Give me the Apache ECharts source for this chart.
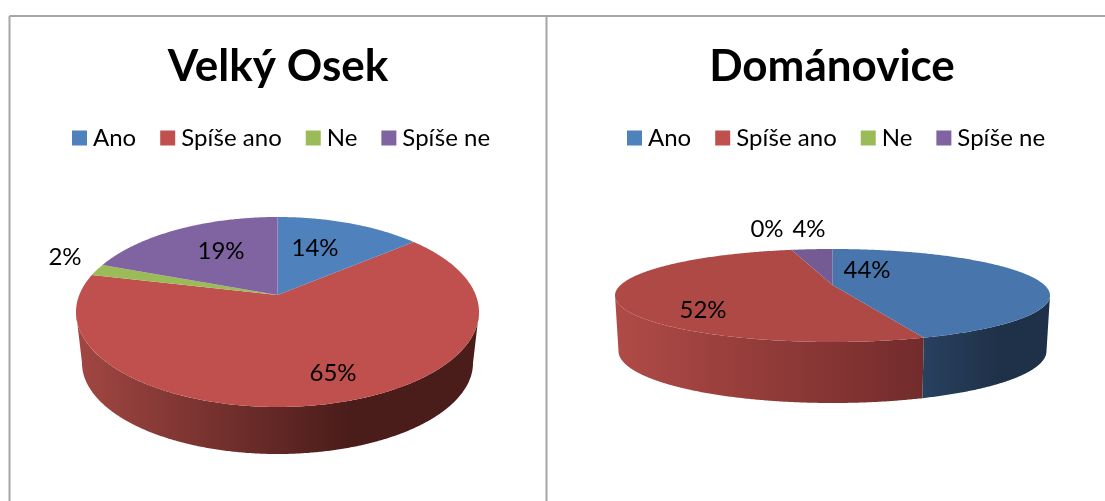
<!DOCTYPE html>
<html><head><meta charset="utf-8">
<style>html,body{margin:0;padding:0;background:#fff}#c{width:1105px;height:501px}</style>
<script src="https://cdn.jsdelivr.net/npm/echarts@6/dist/echarts.min.js"></script>
</head><body><div id="c"></div>
<script>
// Data
const categories = ['Ano', 'Spíše ano', 'Ne', 'Spíše ne'];
const titles = ['Velký Osek', 'Dománovice'];
const velkyOsekValues = [13.9, 64.7, 2, 19.4];
const domanoviceValues = [44.49, 51.7, 0, 3.81];

// Styling and layout
const FONT = 'Lato';
const legendColors = ['#4F81BD', '#C0504D', '#9BBB59', '#8064A2'];
const layouts = [
  { values: velkyOsekValues, cx: 277.5, cy: 312, rx: 201.5, ry: 95, k: 0.834,
    bcy: 363, brx: 195.5, bry: 91, titleX: 273, legendX: 72,
    top: ['#4F81BD', '#C0504D', '#9BBB59', '#8064A2'],
    side: [null, [['#A24743', 0], ['#4A1C1A', 0.68], ['#4A1C1A', 1]], null, null],
    labels: [[315, 248], [333, 373], [65, 257], [221, 251]] },
  { values: domanoviceValues, cx: 832.5, cy: 295.5, rx: 217.5, ry: 46.5, k: 0.794,
    bcy: 351, brx: 214, bry: 52, titleX: 827, legendX: 627,
    top: ['#4876AC', '#AE4946', '#8EAB51', '#755B94'],
    side: [[['#28415F', 0], ['#1F3148', 0.6], ['#1F3148', 1]], [['#B04B47', 0], ['#722B2B', 1]], null, null],
    labels: [[867, 270], [703, 310], [767, 229], [809, 229]] }
];

const toRim = (L, thetaDeg) => {
  // circle angle (clockwise from the top) -> angle on the foreshortened ellipse
  const t = thetaDeg * Math.PI / 360;
  if (Math.abs(Math.cos(t)) < 1e-9) return thetaDeg;
  let phi = 2 * Math.atan(L.k * Math.tan(t));
  if (phi < 0) phi += 2 * Math.PI;
  return phi * 180 / Math.PI;
};
const pt = (cx, cy, rx, ry, deg) => {
  const a = deg * Math.PI / 180;
  return [cx + rx * Math.sin(a), cy - ry * Math.cos(a)];
};

function makeRender(L, idx) {
  return function (params, api) {
    const total = L.values.reduce((s, v) => s + v, 0);
    const before = L.values.slice(0, idx).reduce((s, v) => s + v, 0);
    const v = api.value(0);
    const a = toRim(L, before / total * 360);
    let b = toRim(L, (before + v) / total * 360);
    if (before + v >= total - 1e-9) b = 360;
    const children = [];
    const apexY = L.cy - L.ry * ((1 - L.k * L.k) / (1 + L.k * L.k));
    if (v > 0) {
      const s = Math.max(a, 90), e = Math.min(b, 270);
      if (e > s && L.side[idx]) {
        const up = [], down = [];
        for (let d = s; d <= e; d += 0.5) {
          up.push(pt(L.cx, L.cy, L.rx, L.ry, d));
          down.unshift(pt(L.cx, L.bcy, L.brx, L.bry, d));
        }
        up.push(pt(L.cx, L.cy, L.rx, L.ry, e));
        down.unshift(pt(L.cx, L.bcy, L.brx, L.bry, e));
        const xs = up.concat(down).map(p => p[0]);
        const x0 = Math.min(...xs), x1 = Math.max(...xs);
        children.push({ type: 'polygon', shape: { points: up.concat(down) },
          style: { fill: { type: 'linear', x: x0, y: 0, x2: x1, y2: 0, global: true,
            colorStops: L.side[idx].map(c => ({ color: c[0], offset: c[1] })) } } });
      }
      const face = [[L.cx, apexY]];
      for (let d = a; d < b; d += 0.5) face.push(pt(L.cx, L.cy, L.rx, L.ry, d));
      face.push(pt(L.cx, L.cy, L.rx, L.ry, b));
      children.push({ type: 'polygon', shape: { points: face }, style: { fill: L.top[idx] } });
    }
    children.push({ type: 'text', z2: 10, style: {
      text: Math.round(v) + '%', x: L.labels[idx][0], y: L.labels[idx][1],
      align: 'center', verticalAlign: 'middle', font: '24px ' + FONT, fill: '#000' } });
    return { type: 'group', children };
  };
}

const series = [];
layouts.forEach(L => {
  categories.forEach((name, i) => {
    series.push({ type: 'custom', name, coordinateSystem: 'none', silent: true,
      itemStyle: { color: legendColors[i] },
      z: 2 + (i === 1 ? 0 : 1),
      renderItem: makeRender(L, i), data: [[L.values[i]]] });
  });
});

const frameColor = '#A6A6A6';
const line = (x1, y1, x2, y2) => ({ type: 'line', silent: true, z: 50,
  shape: { x1, y1, x2, y2 }, style: { stroke: frameColor, lineWidth: 2 } });

const chart = echarts.init(document.getElementById('c'), null, { renderer: 'canvas' });
chart.setOption({
  animation: false,
  backgroundColor: '#fff',
  title: layouts.map((L, i) => ({
    text: titles[i], left: L.titleX, top: 40, textAlign: 'center',
    textStyle: { fontFamily: FONT, fontWeight: 'bold', fontSize: 44, color: '#000' }
  })),
  legend: layouts.map(L => ({
    data: categories, left: L.legendX, top: 126, padding: 0, icon: 'rect', itemWidth: 15, itemHeight: 15,
    itemGap: 24, selectedMode: false,
    textStyle: { fontFamily: FONT, fontSize: 24, color: '#000', padding: [0, 0, 0, 1] }
  })),
  graphic: [line(9.5, 16, 1105, 16), line(9.5, 16, 9.5, 501), line(546.5, 16, 546.5, 501)],
  series
});
</script></body></html>
